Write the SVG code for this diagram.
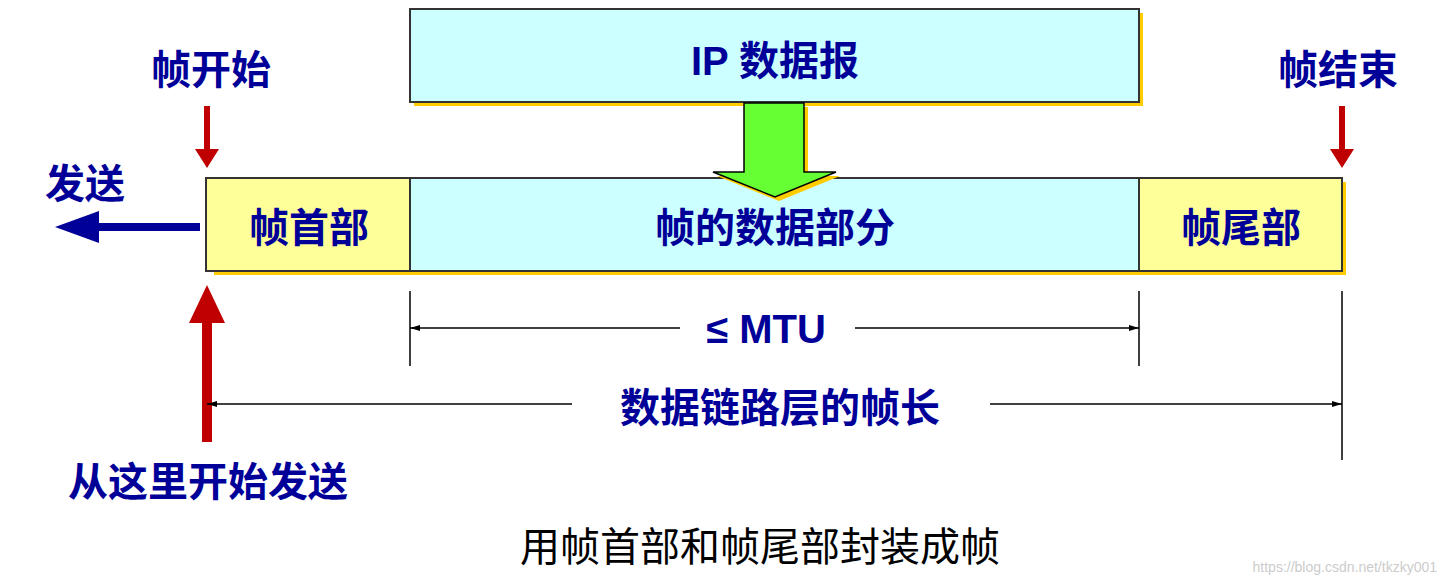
<svg xmlns="http://www.w3.org/2000/svg" width="1443" height="584" viewBox="0 0 1443 584">
<style>
.t{font-family:"Liberation Sans","Noto Sans CJK SC",sans-serif;font-weight:bold;fill:#000099;font-size:40px;text-anchor:middle}
.box{stroke:#333;stroke-width:2}
.sh{fill:#ffcc00}
.dim{stroke:#000;stroke-width:1.5;fill:none}
</style>
<defs>
<marker id="ah" viewBox="0 0 10 6" refX="10" refY="3" markerWidth="10" markerHeight="6" markerUnits="userSpaceOnUse" orient="auto-start-reverse"><path d="M0,0L10,3L0,6z" fill="#000"/></marker>
</defs>
<g id="ip">
<rect class="sh" x="414" y="13" width="729" height="93"/>
<rect class="box" x="410" y="9" width="729" height="93" fill="#ccffff"/>
<text class="t" x="775" y="75">IP 数据报</text>
</g>
<g id="frame">
<rect class="sh" x="214" y="182" width="1132" height="93"/>
<rect class="box" x="206" y="178" width="204" height="93" fill="#ffff99"/>
<rect class="box" x="410" y="178" width="729" height="93" fill="#ccffff"/>
<rect class="box" x="1139" y="178" width="203" height="93" fill="#ffff99"/>
<text class="t" x="309" y="242">帧首部</text>
<text class="t" x="775" y="242">帧的数据部分</text>
<text class="t" x="1241" y="242">帧尾部</text>
</g>
<g id="greenarrow">
<path d="M748,107H808V176H840L779,201L717,176H748Z" fill="#ffcc00"/>
<path d="M744,103H804V172H836L775,197L713,172H744Z" fill="#66ff33" stroke="#000" stroke-width="1.5"/>
</g>
<g id="labels">
<text class="t" x="211" y="84">帧开始</text>
<text class="t" x="1338" y="84">帧结束</text>
<text class="t" x="85" y="198">发送</text>
<text class="t" x="208" y="496">从这里开始发送</text>
<text class="t" x="766" y="343">≤ MTU</text>
<text class="t" x="780" y="422">数据链路层的帧长</text>
<text class="t" x="760" y="561" style="fill:#000;font-weight:normal;font-size:40px">用帧首部和帧尾部封装成帧</text>
<text x="1437" y="572" style="font-family:'Liberation Sans',sans-serif;font-size:14px;fill:#ccc;text-anchor:end">https://blog.csdn.net/tkzky001</text>
</g>
<g id="connectors">
<path d="M204,106h6v43h9l-12,19l-12,-19h9z" fill="#c00000"/>
<path d="M1339,106h6v43h9l-12,19l-12,-19h9z" fill="#c00000"/>
<path d="M202,442V323h-13l18,-38l18,38h-13V442z" fill="#c00000"/>
<path d="M200,223H99v-12l-44,16l44,16v-12H200z" fill="#000099"/>
<path class="dim" d="M410,291V366M1139,291V366M1342,291V460"/>
<path class="dim" d="M680,328H410" marker-end="url(#ah)"/>
<path class="dim" d="M855,328H1139" marker-end="url(#ah)"/>
<path class="dim" d="M572,404H207" marker-end="url(#ah)"/>
<path class="dim" d="M990,404H1342" marker-end="url(#ah)"/>
</g>
</svg>
